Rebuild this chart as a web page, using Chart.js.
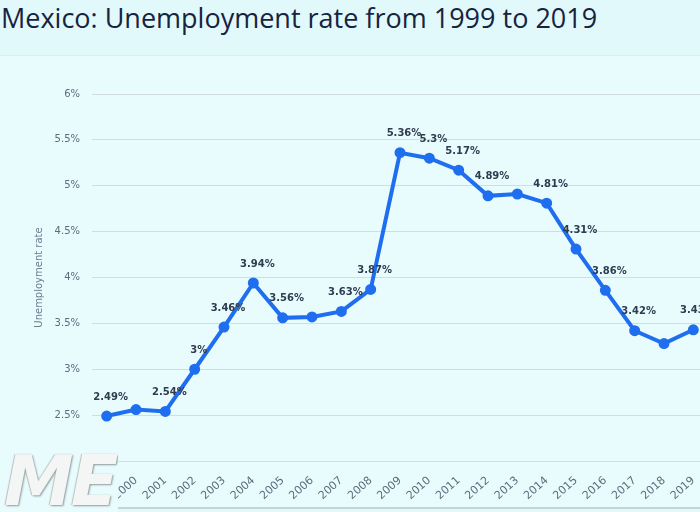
<!DOCTYPE html>
<html>
<head>
<meta charset="utf-8">
<script src="https://cdn.jsdelivr.net/npm/chart.js@4/dist/chart.umd.min.js"></script>
<style>
    html, body {
        margin: 0;
        padding: 0;
        width: 700px;
        height: 512px;
        overflow: hidden;
        background: #e2f9fb;
    }
    #title {
        position: absolute;
        left: 1px;
        top: -1px;
        font-family: "Open Sans", sans-serif;
        font-size: 27px;
        color: #17233f;
        white-space: nowrap;
    }
    #panel {
        position: absolute;
        left: 0;
        top: 55px;
        width: 716px;
        height: 451px;
        background: #e8fcfd;
        border-top: 1px solid #d6eef1;
        border-bottom: 2px solid #c9d3d6;
    }
    #wrap {
        position: absolute;
        left: 0;
        top: 0;
        width: 716px;
        height: 512px;
    }
    #logo {
        position: absolute;
        left: 0;
        top: 450px;
        width: 118px;
        height: 62px;
        background: #e8fcfd;
        font-family: "DejaVu Sans", sans-serif;
        font-size: 70px;
        font-weight: bold;
        font-style: italic;
        letter-spacing: -3px;
        color: #f4f6f6;
        text-shadow: 1px 1px 2px #8f999b, -1px 0 1px #b9c0c1;
        line-height: 62px;
        padding-left: 4px;
        box-sizing: border-box;
        overflow: hidden;
    }
</style>
</head>
<body>
<div id="panel"></div>
<div id="title">Mexico: Unemployment rate from 1999 to 2019</div>
<div id="wrap"><canvas id="chart" width="716" height="512"></canvas></div>
<div id="logo">ME</div>
<script>
const years = ["1999", "2000", "2001", "2002", "2003", "2004", "2005", "2006", "2007", "2008",
    "2009", "2010", "2011", "2012", "2013", "2014", "2015", "2016", "2017", "2018", "2019"];
const rates = [2.49, 2.56, 2.54, 3, 3.46, 3.94, 3.56, 3.57, 3.63, 3.87,
    5.36, 5.3, 5.17, 4.89, 4.91, 4.81, 4.31, 3.86, 3.42, 3.28, 3.43];
const labelShown = [true, false, true, true, true, true, true, false, true, true,
    true, true, true, true, false, true, true, true, true, false, true];
const yTicks = [2, 2.5, 3, 3.5, 4, 4.5, 5, 5.5, 6];

const pointLabels = {
    id: "pointLabels",
    afterDatasetsDraw(chart) {
        const ctx = chart.ctx;
        const meta = chart.getDatasetMeta(0);
        ctx.save();
        ctx.font = "bold 10px 'DejaVu Sans', sans-serif";
        ctx.fillStyle = "#2f3b4f";
        ctx.textAlign = "center";
        ctx.textBaseline = "middle";
        meta.data.forEach((pt, i) => {
            if (!labelShown[i]) {
                return;
            }
            ctx.fillText(rates[i] + "%", pt.x + 4, pt.y - 19);
        });
        ctx.restore();
    },
};

new Chart(document.getElementById("chart"), {
    type: "line",
    data: {
        labels: years,
        datasets: [{
            data: rates,
            borderColor: "#1f6ef0",
            backgroundColor: "#1f6ef0",
            borderWidth: 4,
            pointRadius: 3.5,
            pointHoverRadius: 3.5,
            tension: 0,
        }],
    },
    options: {
        responsive: false,
        animation: false,
        devicePixelRatio: 1,
        layout: { padding: { top: 94, right: 8, left: 0, bottom: 0 } },
        plugins: {
            legend: { display: false },
            tooltip: { enabled: false },
        },
        scales: {
            x: {
                offset: true,
                grid: { display: false },
                border: { display: false },
                ticks: {
                    color: "#5f6a7c",
                    font: { family: "'DejaVu Sans', sans-serif", size: 11 },
                    maxRotation: 42,
                    minRotation: 42,
                    autoSkip: false,
                    padding: 5,
                },
                afterFit: (scale) => { scale.height = 51; },
            },
            y: {
                min: 2,
                max: 6,
                afterBuildTicks: (scale) => { scale.ticks = yTicks.map((v) => ({ value: v })); },
                grid: { color: "#d3dde0", drawTicks: false, lineWidth: 1 },
                border: { display: false },
                ticks: {
                    color: "#5f6a7c",
                    font: { family: "'DejaVu Sans', sans-serif", size: 10 },
                    padding: 12,
                    callback: (v) => v + "%",
                },
                title: {
                    display: true,
                    text: "Unemployment rate",
                    color: "#6c7b92",
                    font: { family: "'DejaVu Sans', sans-serif", size: 10 },
                    padding: { top: 33, bottom: 0 },
                },
                afterFit: (scale) => { scale.width = 92; },
            },
        },
    },
    plugins: [pointLabels],
});
</script>
</body>
</html>
